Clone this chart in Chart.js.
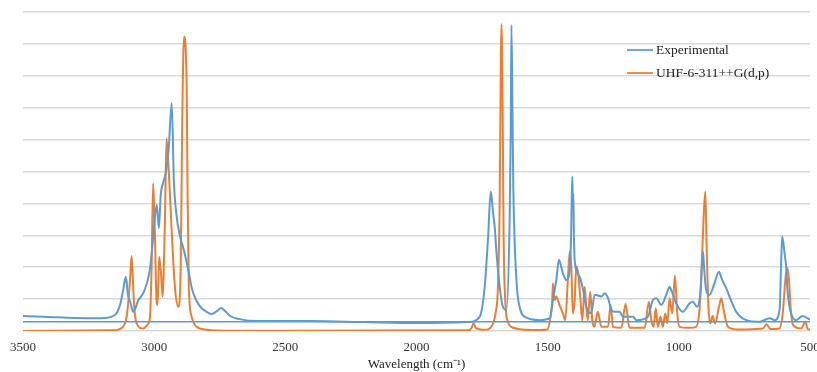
<!DOCTYPE html>
<html>
<head>
<meta charset="utf-8">
<title>IR spectrum</title>
<script src="https://cdn.jsdelivr.net/npm/chart.js@4.4.1/dist/chart.umd.min.js"></script>
<style>
  html, body { margin: 0; padding: 0; background: #fff; }
  #wrap { width: 817px; height: 372px; position: relative; }
</style>
</head>
<body>
<div id="wrap"><canvas id="spectrum"></canvas></div>
<script>
// Espectro experimental (número de onda, intensidade relativa)
const expWavenumber = [3500, 3400, 3300, 3200, 3150, 3130, 3118, 3108, 3100, 3090, 3080, 3060, 3040, 3020, 3010, 3000, 2990, 2982, 2975, 2965, 2955, 2945, 2933, 2925, 2915, 2900, 2885, 2870, 2855, 2840, 2820, 2800, 2780, 2760, 2745, 2730, 2710, 2680, 2600, 2400, 2200, 2000, 1800, 1759, 1740, 1727, 1717, 1708, 1702, 1695, 1683, 1671, 1657, 1645, 1641, 1638, 1634, 1631, 1619, 1607, 1588, 1530, 1492, 1480, 1467, 1457, 1442, 1429, 1416, 1411, 1408, 1406, 1404, 1402, 1400, 1396, 1378, 1365, 1353, 1334, 1321, 1315, 1295, 1283, 1270, 1257, 1245, 1226, 1213, 1175, 1162, 1118, 1099, 1086, 1067, 1048, 1035, 1029, 1010, 985, 959, 947, 930, 917, 908, 903, 896, 883, 864, 847, 835, 822, 807, 781, 743, 692, 654, 635, 616, 610, 606, 597, 591, 585, 572, 553, 528, 509, 500];
const expIntensity = [0.47, 0.44, 0.41, 0.40, 0.50, 0.82, 1.29, 1.70, 1.13, 0.88, 0.60, 0.97, 1.22, 1.75, 2.38, 3.32, 3.95, 3.23, 4.26, 4.67, 4.98, 5.67, 7.15, 4.73, 3.64, 2.92, 2.48, 1.91, 1.29, 0.97, 0.72, 0.60, 0.53, 0.63, 0.72, 0.63, 0.47, 0.38, 0.31, 0.31, 0.28, 0.25, 0.28, 0.45, 1.39, 2.96, 4.37, 3.70, 3.27, 2.45, 1.39, 0.76, 0.66, 3.48, 6.09, 9.59, 6.8, 4.52, 1.60, 0.76, 0.45, 0.34, 0.40, 0.97, 1.60, 2.23, 1.81, 1.60, 1.91, 2.9, 4.2, 4.84, 3.9, 4.3, 3.0, 2.13, 1.70, 1.29, 0.76, 0.56, 1.13, 1.13, 1.08, 1.18, 1.03, 0.66, 0.60, 0.60, 0.45, 0.45, 0.34, 0.45, 0.97, 1.03, 0.82, 1.13, 1.39, 1.29, 0.87, 0.60, 0.87, 0.92, 0.76, 1.29, 2.49, 1.91, 1.29, 1.13, 1.50, 1.86, 1.60, 1.39, 1.08, 0.60, 0.34, 0.29, 0.40, 0.34, 0.66, 2.12, 2.96, 2.44, 2.02, 1.19, 0.55, 0.34, 0.47, 0.40, 0.35];
// linha de retorno do Excel (fim -> início)
const expReturnWavenumber = [500, 3500];
const expReturnIntensity = [0.29, 0.29];

// Espectro calculado UHF-6-311++G(d,p)
const uhfWavenumber = [3500, 3160, 3120, 3105, 3099, 3092, 3086, 3081, 3077, 3067, 3042, 3025, 3016, 3010, 3004, 2997, 2991, 2987, 2981, 2974, 2968, 2959, 2953, 2944, 2934, 2921, 2908, 2899, 2893, 2886, 2876, 2873, 2868, 2857, 2838, 2800, 2700, 1800, 1790, 1782, 1774, 1740, 1710, 1698, 1690, 1683, 1678, 1676, 1673, 1668, 1662, 1652, 1630, 1560, 1500, 1490, 1483, 1480, 1474, 1467, 1455, 1442, 1433, 1423, 1416, 1410, 1404, 1397, 1391, 1383, 1374, 1368, 1359, 1353, 1347, 1338, 1330, 1322, 1309, 1295, 1270, 1260, 1251, 1219, 1203, 1188, 1130, 1114, 1105, 1096, 1088, 1080, 1070, 1061, 1052, 1044, 1035, 1025, 1015, 1006, 997, 959, 934, 922, 915, 906, 899, 894, 887, 880, 871, 862, 847, 838, 829, 813, 781, 680, 665, 652, 616, 604, 593, 586, 580, 574, 565, 534, 517, 509, 500];
const uhfIntensity = [0, 0.02, 0.12, 0.45, 0.87, 1.6, 2.35, 1.6, 0.87, 0.24, 0.08, 0.2, 0.45, 1.91, 4.63, 2.96, 0.97, 0.82, 2.33, 1.81, 1.08, 3.48, 6.04, 4.94, 3.27, 1.39, 0.76, 1.91, 6.61, 9.23, 7.66, 4.52, 1.39, 0.45, 0.13, 0.04, 0.01, 0.02, 0.1, 0.24, 0.1, 0.04, 0.2, 0.6, 1.3, 4.0, 8.8, 9.62, 8.5, 3.0, 1.0, 0.3, 0.1, 0.03, 0.05, 0.4, 0.88, 1.5, 0.97, 1.08, 0.82, 0.55, 0.34, 1.6, 2.49, 2.02, 0.55, 0.97, 2.02, 1.76, 0.87, 0.34, 1.39, 0.76, 0.34, 1.23, 0.34, 0.13, 0.6, 0.13, 0.13, 0.82, 0.13, 0.1, 0.85, 0.1, 0.1, 0.92, 0.34, 0.13, 0.71, 0.13, 0.45, 0.13, 0.55, 0.24, 1.03, 0.55, 1.73, 0.55, 0.13, 0.1, 0.13, 0.6, 1.6, 3.48, 4.37, 2.64, 0.76, 0.24, 0.47, 0.24, 0.76, 1.03, 0.66, 0.13, 0.05, 0.08, 0.21, 0.06, 0.08, 0.55, 1.7, 1.97, 1.6, 0.76, 0.19, 0.08, 0.29, 0.06, 0.05];

const xTicks = [3500, 3000, 2500, 2000, 1500, 1000, 500];
const seriesLabels = ['Experimental', 'UHF-6-311++G(d,p)'];
const seriesColors = ['#5b9bd5', '#ed7d31'];

function toPoints(xs, ys) {
    return xs.map((x, i) => ({ x: x, y: ys[i] }));
}

// Legenda desenhada dentro da área do gráfico
const insideLegend = {
    id: 'insideLegend',
    afterDraw(chart) {
        const ctx = chart.ctx;
        const area = chart.chartArea;
        const x0 = area.right - 183;
        let y = area.top + 38;
        ctx.save();
        ctx.font = '13.5px "Liberation Serif", "Times New Roman", serif';
        ctx.textBaseline = 'middle';
        ctx.fillStyle = '#222';
        chart.data.datasets.forEach(ds => {
            if (!ds.label) return;
            ctx.strokeStyle = ds.borderColor;
            ctx.lineWidth = 1.75;
            ctx.beginPath();
            ctx.moveTo(x0, y);
            ctx.lineTo(x0 + 26, y);
            ctx.stroke();
            ctx.fillText(ds.label, x0 + 29, y);
            y += 23;
        });
        ctx.restore();
    }
};

const ctx = document.getElementById('spectrum').getContext('2d');
new Chart(ctx, {
    type: 'scatter',
    data: {
        datasets: [
            {
                label: seriesLabels[0],
                data: toPoints(expWavenumber, expIntensity),
                borderColor: seriesColors[0],
                borderWidth: 2,
                showLine: true,
                pointRadius: 0,
                cubicInterpolationMode: 'monotone'
            },
            {
                label: '',
                data: toPoints(expReturnWavenumber, expReturnIntensity),
                borderColor: seriesColors[0],
                borderWidth: 1.5,
                showLine: true,
                pointRadius: 0
            },
            {
                label: seriesLabels[1],
                data: toPoints(uhfWavenumber, uhfIntensity),
                borderColor: seriesColors[1],
                borderWidth: 2,
                showLine: true,
                pointRadius: 0,
                cubicInterpolationMode: 'monotone'
            }
        ]
    },
    options: {
        responsive: true,
        maintainAspectRatio: false,
        animation: false,
        layout: { padding: { left: 23, right: 7, top: 12, bottom: 0 } },
        plugins: {
            legend: { display: false },
            tooltip: { enabled: false }
        },
        scales: {
            x: {
                type: 'linear',
                reverse: true,
                min: 500,
                max: 3500,
                grid: { display: false, drawTicks: false },
                border: { display: false },
                afterBuildTicks: (scale) => {
                    scale.ticks = xTicks.map(v => ({ value: v }));
                },
                afterFit: (scale) => {
                    scale.paddingLeft = 0;
                    scale.paddingRight = 0;
                    scale.height = 41;
                },
                ticks: {
                    padding: 9,
                    maxRotation: 0,
                    autoSkip: false,
                    color: '#333',
                    callback: (v) => String(v),
                    font: { family: '"Liberation Serif", "Times New Roman", serif', size: 13 }
                },
                title: {
                    display: true,
                    text: 'Wavelength (cm\u207B\u00B9)',
                    color: '#222',
                    padding: { top: 0, bottom: 0 },
                    font: { family: '"Liberation Serif", "Times New Roman", serif', size: 13 }
                }
            },
            y: {
                min: 0,
                max: 10,
                ticks: { display: false, stepSize: 1 },
                grid: { color: '#d9d9d9', lineWidth: 1.5, drawTicks: false },
                border: { display: false }
            }
        }
    },
    plugins: [insideLegend]
});
</script>
</body>
</html>
